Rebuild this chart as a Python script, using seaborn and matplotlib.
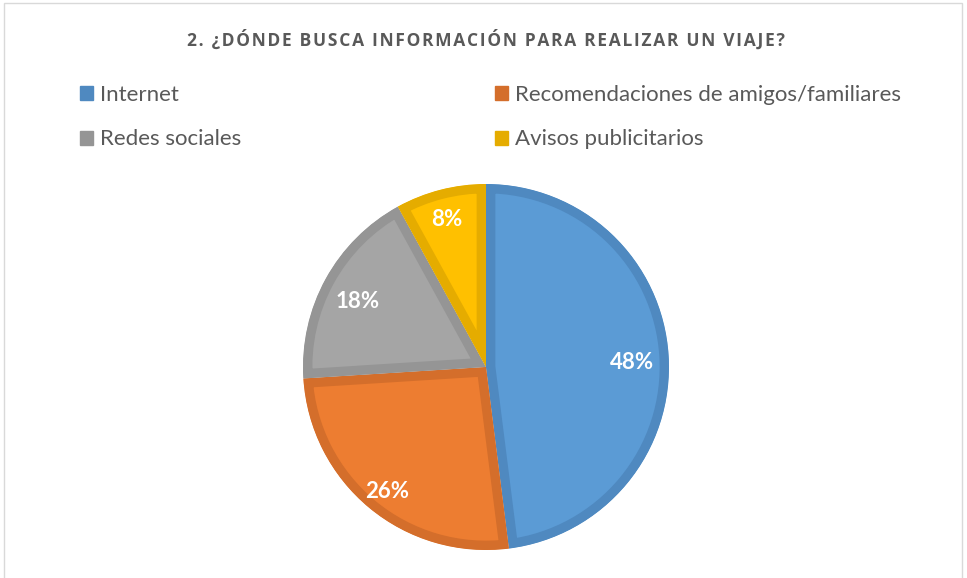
import matplotlib
matplotlib.use("Agg")
import matplotlib.pyplot as plt
from matplotlib.patches import Patch, Rectangle
import numpy as np
import seaborn as sns

# Data
categories = ["Internet", "Recomendaciones de amigos/familiares", "Redes sociales", "Avisos publicitarios"]
percentages = [48, 26, 18, 8]
title = "2. ¿DÓNDE BUSCA INFORMACIÓN PARA REALIZAR UN VIAJE?"

fill_colors = ["#5B9BD5", "#ED7D31", "#A5A5A5", "#FFC000"]
edge_colors = ["#4F89C0", "#D46E2B", "#959595", "#E5AC00"]
label_dist = [0.80, 0.85, 0.80, 0.86]  # radial placement of the % labels
text_gray = "#595959"

sns.set_theme(style="white")
plt.rcParams["font.family"] = ["Lato", "DejaVu Sans"]

W, H = 967, 578
fig = plt.figure(figsize=(W / 100, H / 100), dpi=100)
fig.patch.set_facecolor("white")

# chart border
fig.patches.append(Rectangle((4 / W, -0.05), 958 / W, 1.05 - 3 / H, transform=fig.transFigure,
                             fill=False, edgecolor="#D9D9D9", linewidth=1.0))

# Pie: center (486, 367) px, radius 183 px
cx, cy, r = 486, 367, 183
ax = fig.add_axes([(cx - r) / W, (H - cy - r) / H, 2 * r / W, 2 * r / H])
wedges, texts, autotexts = ax.pie(
    percentages, colors=fill_colors, startangle=90, counterclock=False,
    autopct="%d%%", pctdistance=0.82, radius=1.0,
    wedgeprops=dict(linewidth=13.5),
    textprops=dict(color="white", fontsize=16, fontweight="bold"),
)
ax.set_xlim(-1, 1)
ax.set_ylim(-1, 1)
ax.set_aspect("equal")
ax.axis("off")

for w, ec, t, d in zip(wedges, edge_colors, autotexts, label_dist):
    w.set_edgecolor(ec)
    w.set_joinstyle("miter")
    # keep the stroke inside each slice (pie turns clipping off by default)
    w.set_clip_on(True)
    w.set_clip_path(w)
    ang = np.deg2rad((w.theta1 + w.theta2) / 2)
    t.set_position((d * np.cos(ang), d * np.sin(ang) - 0.025))

# Title, letter-spaced
spaced = "\u200a".join(title)
fig.text(cx / W, 1 - 40 / H, spaced, ha="center", va="center", fontsize=12.5,
         fontweight="bold", color=text_gray, family=["Open Sans", "DejaVu Sans"])

# Legend, two columns
handles = [Patch(facecolor=c, edgecolor=c) for c in edge_colors]
leg_kw = dict(frameon=False, fontsize=16, handlelength=0.6, handleheight=0.6,
              handletextpad=0.3, labelspacing=1.1, borderaxespad=0, borderpad=0,
              labelcolor=text_gray, loc="upper left")
fig.legend([handles[0], handles[2]], [categories[0], categories[2]],
           bbox_to_anchor=(80 / W, 1 - 85 / H), **leg_kw)
fig.legend([handles[1], handles[3]], [categories[1], categories[3]],
           bbox_to_anchor=(495 / W, 1 - 85 / H), **leg_kw)

fig.savefig("out.png", dpi=100, facecolor="white")
